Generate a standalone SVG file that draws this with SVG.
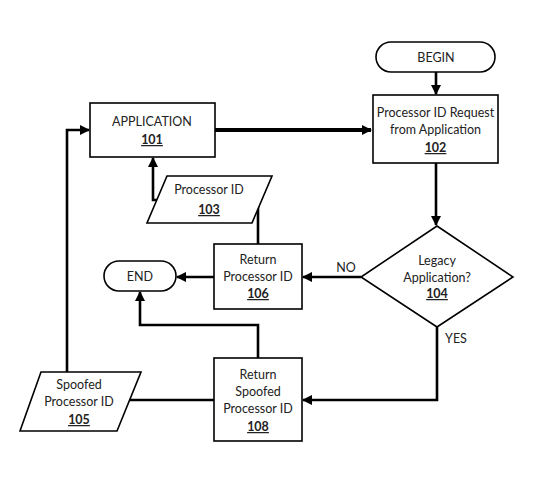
<svg xmlns="http://www.w3.org/2000/svg" width="542" height="485" viewBox="0 0 542 485">
<style>
.s{fill:#fff;stroke:#000;stroke-width:1.6}
.t{font-family:Lato,"Liberation Sans",sans-serif;font-size:12.5px;fill:#222;text-anchor:middle}
.n{font-weight:bold;text-decoration:underline}
.c{fill:none;stroke:#000;stroke-width:2.6}
.k{stroke-width:4}
</style>
<defs>
<marker id="a" viewBox="0 0 10 10" refX="9" refY="5" markerWidth="4" markerHeight="4" orient="auto" markerUnits="strokeWidth">
<path d="M0,0L10,5L0,10z" fill="#000"/>
</marker>
<marker id="b" viewBox="0 0 10 10" refX="9" refY="5" markerWidth="2.6" markerHeight="2.6" orient="auto" markerUnits="strokeWidth">
<path d="M0,0L10,5L0,10z" fill="#000"/>
</marker>
</defs>
<rect width="542" height="485" fill="#fff"/>
<g id="connectors">
<path class="c k" d="M215,130H371" marker-end="url(#b)"/>
<path class="c" d="M436,72V94" marker-end="url(#a)"/>
<path class="c" d="M436,163V225" marker-end="url(#a)"/>
<path class="c" d="M361,277H303" marker-end="url(#a)"/>
<path class="c" d="M214,277H177" marker-end="url(#a)"/>
<path class="c" d="M258,203V244"/>
<path class="c" d="M157,200H153V158" marker-end="url(#a)"/>
<path class="c" d="M67,372V130H89" marker-end="url(#a)"/>
<path class="c" d="M130,400H214"/>
<path class="c" d="M437,327V400H303" marker-end="url(#a)"/>
<path class="c" d="M258,358V325H140V292" marker-end="url(#a)"/>
<text class="t" x="346" y="272">NO</text>
<text class="t" x="456" y="343">YES</text>
</g>
<g id="n101">
<rect class="s" x="90" y="103" width="125" height="54"/>
<text class="t" x="152" y="126">APPLICATION</text>
<text class="t n" x="152" y="144">101</text>
</g>
<g id="begin">
<rect class="s" x="376" y="42" width="119" height="30" rx="15"/>
<text class="t" x="436" y="61.5">BEGIN</text>
</g>
<g id="n102">
<rect class="s" x="373" y="95" width="125" height="68"/>
<text class="t" x="435.5" y="117">Processor ID Request</text>
<text class="t" x="435.5" y="134">from Application</text>
<text class="t n" x="435.5" y="152">102</text>
</g>
<g id="n103">
<path class="s" d="M167,176H272L252,223H147z"/>
<text class="t" x="209" y="194">Processor ID</text>
<text class="t n" x="209" y="214">103</text>
</g>
<g id="n104">
<path class="s" d="M437,226L513,277L437,327L361,277z"/>
<text class="t" x="437" y="265">Legacy</text>
<text class="t" x="437" y="282">Application?</text>
<text class="t n" x="437" y="298">104</text>
</g>
<g id="n106">
<rect class="s" x="214" y="244" width="88" height="65"/>
<text class="t" x="258" y="264">Return</text>
<text class="t" x="258" y="281">Processor ID</text>
<text class="t n" x="258" y="298">106</text>
</g>
<g id="end">
<rect class="s" x="104" y="261" width="72" height="30" rx="15"/>
<text class="t" x="140" y="280.5">END</text>
</g>
<g id="n105">
<path class="s" d="M41,372H141L117,431H20z"/>
<text class="t" x="79" y="389">Spoofed</text>
<text class="t" x="79" y="406">Processor ID</text>
<text class="t n" x="79" y="424">105</text>
</g>
<g id="n108">
<rect class="s" x="214" y="358" width="88" height="83"/>
<text class="t" x="258" y="379">Return</text>
<text class="t" x="258" y="396">Spoofed</text>
<text class="t" x="258" y="413">Processor ID</text>
<text class="t n" x="258" y="431">108</text>
</g>
</svg>
